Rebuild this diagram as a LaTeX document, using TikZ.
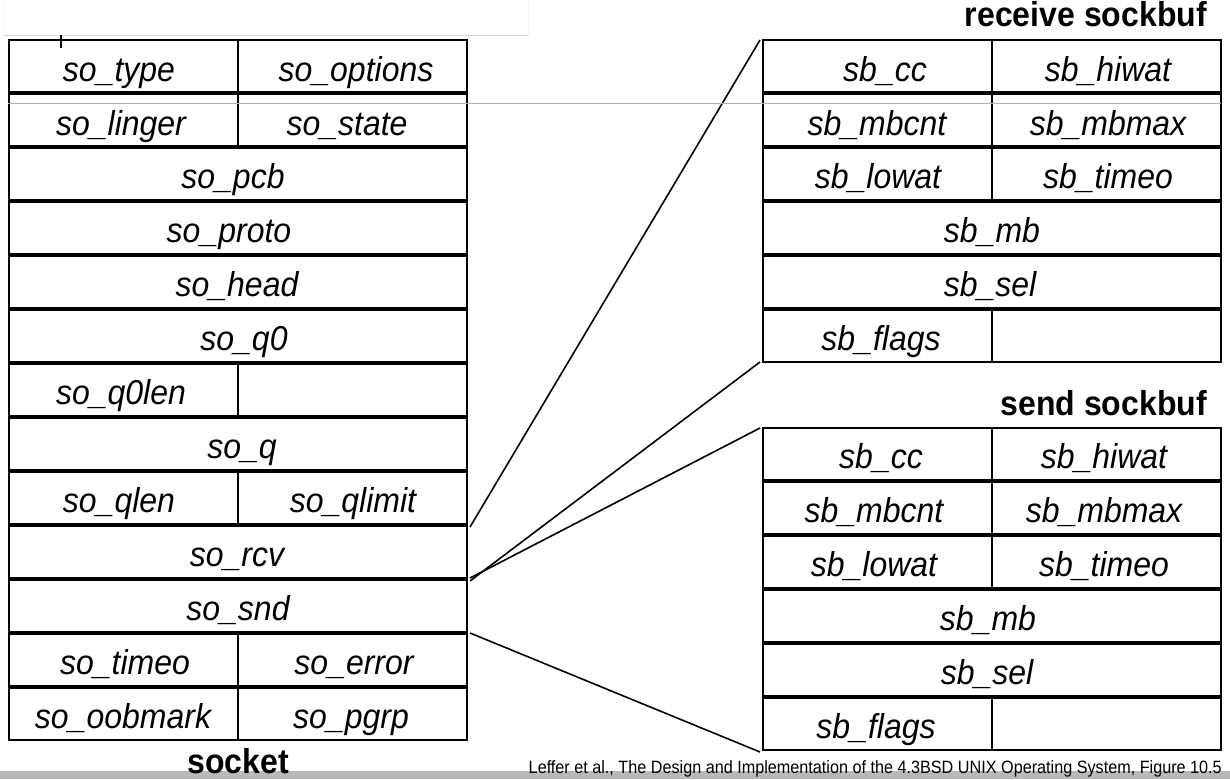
\documentclass[tikz,border=0pt]{standalone}
\usepackage{fontspec}
\setmainfont{Liberation Sans}
\newcommand\tallfld[1]{\scalebox{1}[1.08]{#1}}
\begin{document}
\begin{tikzpicture}[x=1pt,y=-1pt,
  rowbox/.style={draw, line width=2pt, inner sep=0pt, outer sep=0pt, minimum width=458pt, minimum height=52pt},
  fld/.style={anchor=base, inner sep=0pt, font=\fontsize{32}{38}\selectfont\itshape},
  ttl/.style={anchor=base east, inner sep=0pt, font=\fontsize{32}{38}\selectfont\bfseries},
  link/.style={line width=1.6pt},
  artline/.style={draw=gray!60, line width=1.5pt}]
\useasboundingbox (0,0) rectangle (1230,779);
% page artifacts
\draw[draw=magenta!6, fill=white, line width=1pt] (3,-2) rectangle (528,35);
\draw[draw=black!15, line width=1pt] (3,35) -- (528,35);
\draw[line width=2pt] (61,35) -- (61,48);
% socket rows
\foreach \i in {0,...,12} {
  \node[rowbox] (L\i) at (238,{66+54*\i}) {};
}
\foreach \i in {0,...,5} {
  \node[rowbox] (R\i) at (992,{66+54*\i}) {};
  \node[rowbox] (S\i) at (992,{454+54*\i}) {};
}
% dividers
\foreach \n in {L0,L1,L6,L8,L11,L12,R0,R1,R2,R5,S0,S1,S2,S5} {
  \draw[line width=1.6pt] (\n.north) -- (\n.south);
}
% socket texts
\node[fld] (t0a) at (119,{40+41}) {\tallfld{so\_type}};
\node[fld] (t0b) at (356,{40+41}) {\tallfld{so\_options}};
\node[fld] (t1a) at (121,{94+41}) {\tallfld{so\_linger}};
\node[fld] (t1b) at (347,{94+41}) {\tallfld{so\_state}};
\node[fld] (t2) at (233,{148+40}) {\tallfld{so\_pcb}};
\node[fld] (t3) at (229,{202+40}) {\tallfld{so\_proto}};
\node[fld] (t4) at (237,{256+40}) {\tallfld{so\_head}};
\node[fld] (t5) at (244,{310+40}) {\tallfld{so\_q0}};
\node[fld] (t6) at (121,{364+40}) {\tallfld{so\_q0len}};
\node[fld] (t7) at (242,{418+40}) {\tallfld{so\_q}};
\node[fld] (t8a) at (119,{472+40}) {\tallfld{so\_qlen}};
\node[fld] (t8b) at (353,{472+40}) {\tallfld{so\_qlimit}};
\node[fld] (t9) at (237,{526+40}) {\tallfld{so\_rcv}};
\node[fld] (t10) at (238,{580+40}) {\tallfld{so\_snd}};
\node[fld] (t11a) at (125,{634+40}) {\tallfld{so\_timeo}};
\node[fld] (t11b) at (354,{634+40}) {\tallfld{so\_error}};
\node[fld] (t12a) at (123,{688+40}) {\tallfld{so\_oobmark}};
\node[fld] (t12b) at (351,{688+40}) {\tallfld{so\_pgrp}};
% receive sockbuf texts
\node[fld] (r0a) at (885,{40+41}) {\tallfld{sb\_cc}};
\node[fld] (r0b) at (1108,{40+41}) {\tallfld{sb\_hiwat}};
\node[fld] (r1a) at (877,{94+41}) {\tallfld{sb\_mbcnt}};
\node[fld] (r1b) at (1108,{94+41}) {\tallfld{sb\_mbmax}};
\node[fld] (r2a) at (878,{148+40}) {\tallfld{sb\_lowat}};
\node[fld] (r2b) at (1108,{148+40}) {\tallfld{sb\_timeo}};
\node[fld] (r3) at (992,{202+40}) {\tallfld{sb\_mb}};
\node[fld] (r4) at (990,{256+40}) {\tallfld{sb\_sel}};
\node[fld] (r5a) at (881,{310+40}) {\tallfld{sb\_flags}};
% send sockbuf texts
\node[fld] (s0a) at (881,{428+40}) {\tallfld{sb\_cc}};
\node[fld] (s0b) at (1104,{428+40}) {\tallfld{sb\_hiwat}};
\node[fld] (s1a) at (874,{482+40}) {\tallfld{sb\_mbcnt}};
\node[fld] (s1b) at (1104,{482+40}) {\tallfld{sb\_mbmax}};
\node[fld] (s2a) at (874,{536+40}) {\tallfld{sb\_lowat}};
\node[fld] (s2b) at (1104,{536+40}) {\tallfld{sb\_timeo}};
\node[fld] (s3) at (988,{590+40}) {\tallfld{sb\_mb}};
\node[fld] (s4) at (987,{644+40}) {\tallfld{sb\_sel}};
\node[fld] (s5a) at (876,{698+40}) {\tallfld{sb\_flags}};
% titles
\node[ttl] (rtitle) at (1207,27) {\tallfld{receive sockbuf}};
\node[ttl] (stitle) at (1207,415) {\tallfld{send sockbuf}};
% connectors
\draw[link] ([xshift=3pt,yshift=-1pt]L9.north east) -- ([xshift=-3pt]R0.north west);
\draw[link] ([xshift=3pt,yshift=-1pt]L10.north east) -- ([xshift=-3pt]R5.south west);
\draw[link] ([xshift=3pt,yshift=2pt]L10.north east) -- ([xshift=-3pt]S0.north west);
\draw[link] ([xshift=3pt,yshift=1pt]L11.north east) -- ([xshift=-3pt,yshift=-2pt]S5.south west);
% horizontal gray artifact line
\draw[artline] (8,103.5) -- (1221,103.5);
% bottom gray bar
\fill[gray!55] (0,771) rectangle (1230,779);
\node[anchor=base, inner sep=0pt, font=\fontsize{32}{38}\selectfont\bfseries] (socklbl) at (238,773) {\tallfld{socket}};
\node[anchor=base east, inner sep=0pt, font=\fontsize{16.2}{19}\selectfont] (caption) at (1222,773) {\scalebox{1}[1.1]{Leffer et al., The Design and Implementation of the 4.3BSD UNIX Operating System, Figure 10.5}};
\end{tikzpicture}
\end{document}
